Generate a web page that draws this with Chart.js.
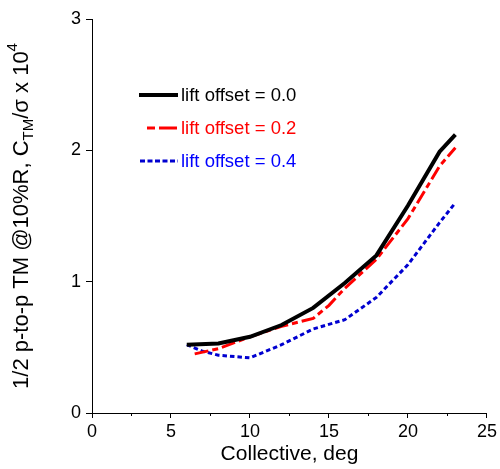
<!DOCTYPE html>
<html>
<head>
<meta charset="utf-8">
<script src="https://cdn.jsdelivr.net/npm/chart.js@4.4.1/dist/chart.umd.min.js"></script>
<style>
  html, body { margin: 0; padding: 0; background: #fff; }
  #wrap { width: 500px; height: 469px; position: relative; }
</style>
</head>
<body>
<div id="wrap"><canvas id="tmChart"></canvas></div>
<script>
// collective pitch (deg) and 1/2 peak-to-peak torsion moment for each lift offset
const collective00 = [6, 8, 10, 12, 14, 16, 18, 20, 22, 23];
const moment00 = [0.52, 0.53, 0.58, 0.67, 0.80, 0.99, 1.20, 1.58, 1.99, 2.12];

const collective02 = [6.5, 8, 10, 12, 14, 15, 16, 18, 20, 22, 23];
const moment02 = [0.45, 0.49, 0.58, 0.66, 0.72, 0.82, 0.95, 1.17, 1.48, 1.88, 2.02];

const collective04 = [6, 7, 8, 10, 12, 14, 16, 18, 20, 22, 23];
const moment04 = [0.52, 0.47, 0.44, 0.42, 0.52, 0.64, 0.71, 0.88, 1.13, 1.45, 1.60];

const legendLabels = ['lift offset = 0.0', 'lift offset = 0.2', 'lift offset = 0.4'];
const xTicks = [0, 5, 10, 15, 20, 25];
const yTicks = [0, 1, 2, 3];

const FONT = 'Arial, "Liberation Sans", sans-serif';
const corPreto = '#000000';
const corVermelho = '#ff0000';
const corAzul = '#0000d0';
const dashVermelho = [14, 4, 6, 4];
const dashAzul = [4.5, 3];

function pares(xs, ys) {
  return xs.map((x, i) => ({ x: x, y: ys[i] }));
}

// legenda desenhada dentro da area do grafico, como no original
const legendaPlugin = {
  id: 'legendaInterna',
  afterDraw(chart) {
    const ctx = chart.ctx;
    const itens = [
      { cor: corPreto, largura: 4, dash: [], x0: 139, texto: corPreto },
      { cor: corVermelho, largura: 3, dash: [8, 4, 18, 4], x0: 147, texto: corVermelho },
      { cor: corAzul, largura: 3, dash: [5, 2.5], x0: 140, texto: '#0000ff' },
    ];
    ctx.save();
    ctx.font = '18.5px ' + FONT;
    ctx.textBaseline = 'middle';
    itens.forEach((it, i) => {
      const y = 95 + i * 33;
      ctx.beginPath();
      ctx.setLineDash(it.dash);
      ctx.strokeStyle = it.cor;
      ctx.lineWidth = it.largura;
      ctx.moveTo(it.x0, y);
      ctx.lineTo(178, y);
      ctx.stroke();
      ctx.setLineDash([]);
      ctx.fillStyle = it.texto;
      ctx.fillText(legendLabels[i], 181, y + 1);
    });
    ctx.restore();
  },
};

// titulo do eixo y com subscrito e sobrescrito, e marcas menores do eixo x
const eixosPlugin = {
  id: 'eixosExtras',
  afterDraw(chart) {
    const ctx = chart.ctx;
    const area = chart.chartArea;
    const xs = chart.scales.x;

    // minor ticks em 2.5, 7.5, ...
    ctx.save();
    ctx.strokeStyle = '#000';
    ctx.lineWidth = 1;
    for (let v = 2.5; v < 25; v += 5) {
      const px = Math.round(xs.getPixelForValue(v)) + 0.5;
      ctx.beginPath();
      ctx.moveTo(px, area.bottom);
      ctx.lineTo(px, area.bottom + 3);
      ctx.stroke();
    }
    ctx.restore();

    const partes = [
      { t: '1/2 p-to-p TM @10%R, C', f: 22, dy: 0 },
      { t: 'TM', f: 15, dy: 7 },
      { t: '/\u03C3 x 10', f: 22, dy: 0 },
      { t: '4', f: 15, dy: -9 },
    ];
    ctx.save();
    ctx.fillStyle = '#000';
    ctx.textBaseline = 'middle';
    let total = 0;
    partes.forEach((p) => {
      ctx.font = p.f + 'px ' + FONT;
      p.w = ctx.measureText(p.t).width;
      total += p.w;
    });
    ctx.translate(22, (area.top + area.bottom) / 2);
    ctx.rotate(-Math.PI / 2);
    let x = -total / 2;
    partes.forEach((p) => {
      ctx.font = p.f + 'px ' + FONT;
      ctx.fillText(p.t, x, p.dy);
      x += p.w;
    });
    ctx.restore();
  },
};

function initTmChart() {
  const ctx = document.getElementById('tmChart').getContext('2d');

  const data = {
    datasets: [
      {
        label: legendLabels[0],
        data: pares(collective00, moment00),
        borderColor: corPreto,
        borderWidth: 4,
        order: 1,
      },
      {
        label: legendLabels[1],
        data: pares(collective02, moment02),
        borderColor: corVermelho,
        borderWidth: 3,
        borderDash: dashVermelho,
        order: 2,
      },
      {
        label: legendLabels[2],
        data: pares(collective04, moment04),
        borderColor: corAzul,
        borderWidth: 3,
        borderDash: dashAzul,
        order: 3,
      },
    ],
  };

  const config = {
    type: 'line',
    data: data,
    options: {
      responsive: true,
      maintainAspectRatio: false,
      animation: false,
      elements: {
        point: { radius: 0 },
        line: { tension: 0, fill: false, borderCapStyle: 'butt' },
      },
      layout: { padding: { top: 19, right: 12, left: 0, bottom: 0 } },
      scales: {
        x: {
          type: 'linear',
          min: 0,
          max: 25,
          afterBuildTicks: (s) => { s.ticks = xTicks.map((v) => ({ value: v })); },
          afterFit: (s) => { s.height = 56; },
          grid: { drawOnChartArea: false, tickLength: 5, color: '#000', tickColor: '#000' },
          border: { color: '#000', width: 1 },
          ticks: { color: '#000', font: { family: FONT, size: 18 }, padding: 3, maxRotation: 0 },
          title: {
            display: true,
            text: 'Collective, deg',
            color: '#000',
            font: { family: FONT, size: 21 },
            padding: 2,
          },
        },
        y: {
          type: 'linear',
          min: 0,
          max: 3,
          afterBuildTicks: (s) => { s.ticks = yTicks.map((v) => ({ value: v })); },
          afterFit: (s) => { s.width = 92; },
          grid: { drawOnChartArea: false, tickLength: 6, color: '#000', tickColor: '#000' },
          border: { color: '#000', width: 1 },
          ticks: { color: '#000', font: { family: FONT, size: 18 }, padding: 5 },
        },
      },
      plugins: {
        legend: { display: false },
        tooltip: { enabled: false },
      },
    },
    plugins: [legendaPlugin, eixosPlugin],
  };

  new Chart(ctx, config);
}

initTmChart();
</script>
</body>
</html>
